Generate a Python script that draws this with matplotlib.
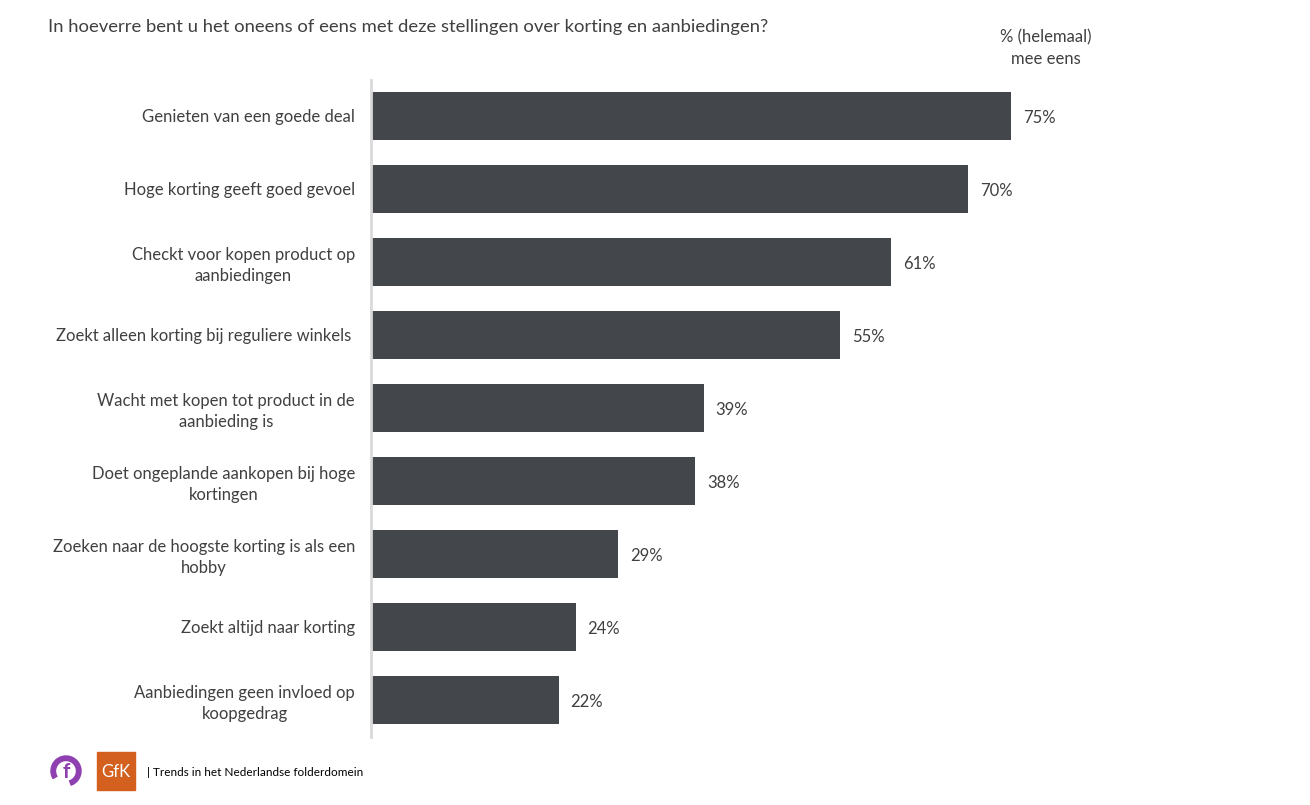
import matplotlib.pyplot as plt
from matplotlib.patches import Rectangle, Wedge

plt.rcParams['font.family'] = ['Lato', 'DejaVu Sans']

# stellingen en percentages (helemaal) mee eens
labels = [
    "Genieten van een goede deal",
    "Hoge korting geeft goed gevoel",
    "Checkt voor kopen product op\naanbiedingen",
    "Zoekt alleen korting bij reguliere winkels ",
    "Wacht met kopen tot product in de\naanbieding is",
    "Doet ongeplande aankopen bij hoge\nkortingen",
    "Zoeken naar de hoogste korting is als een\nhobby",
    "Zoekt altijd naar korting",
    "Aanbiedingen geen invloed op\nkoopgedrag",
]
values = [75, 70, 61, 55, 39, 38, 29, 24, 22]

bar_color = '#43464b'
text_color = '#404040'

fig = plt.figure(figsize=(13.1, 8.05), dpi=100)
W, H = 1310, 805
ax = fig.add_axes([371 / W, 1 - 737 / H, 853 / W, 657 / H])

pos = list(range(len(values)))
ax.barh(pos, values, height=48 / 73, color=bar_color, left=0)
ax.set_xlim(0, 100)
ax.set_ylim(len(values) - 0.5 + 0.007, -0.5 + 0.007)

for p, v in zip(pos, values):
    ax.text(v + 1.4, p + 0.025, f"{v}%", va='center', ha='left', fontsize=12, color=text_color)

ax.set_yticks(pos)
ax.set_yticklabels(labels, fontsize=12, color=text_color, multialignment='center',
                   linespacing=1.35)
ax.tick_params(axis='y', length=0, pad=11.5)
ax.set_xticks([])
for s in ['top', 'right', 'bottom']:
    ax.spines[s].set_visible(False)
ax.spines['left'].set_color('#d9d9d9')
ax.spines['left'].set_linewidth(2)

# titel en kolomkop
fig.text(48 / W, 1 - 27 / H, "In hoeverre bent u het oneens of eens met deze stellingen over korting en aanbiedingen?",
         fontsize=13.3, color=text_color, ha='left', va='center')
fig.text(1046 / W, 1 - 48 / H, "% (helemaal)\nmee eens", fontsize=12, color=text_color,
         ha='center', va='center', multialignment='center', linespacing=1.4)

# logo's onderaan
lax = fig.add_axes([0, 0, 1, 1], facecolor='none')
lax.set_xlim(0, W)
lax.set_ylim(H, 0)
lax.axis('off')
lax.add_patch(Wedge((66, 771), 15, 150, 70, width=4.5, color='#8e3fb0'))
lax.text(66, 772, "f", fontsize=15, color='#8e3fb0', ha='center', va='center', fontweight='bold')
lax.add_patch(Rectangle((97, 752), 38, 38, color='#d3601e'))
lax.text(116, 772, "GfK", fontsize=12, color='white', ha='center', va='center')
lax.text(147, 772, "| Trends in het Nederlandse folderdomein", fontsize=8.5, color='black',
         ha='left', va='center')

fig.savefig("out.png", dpi=100)
